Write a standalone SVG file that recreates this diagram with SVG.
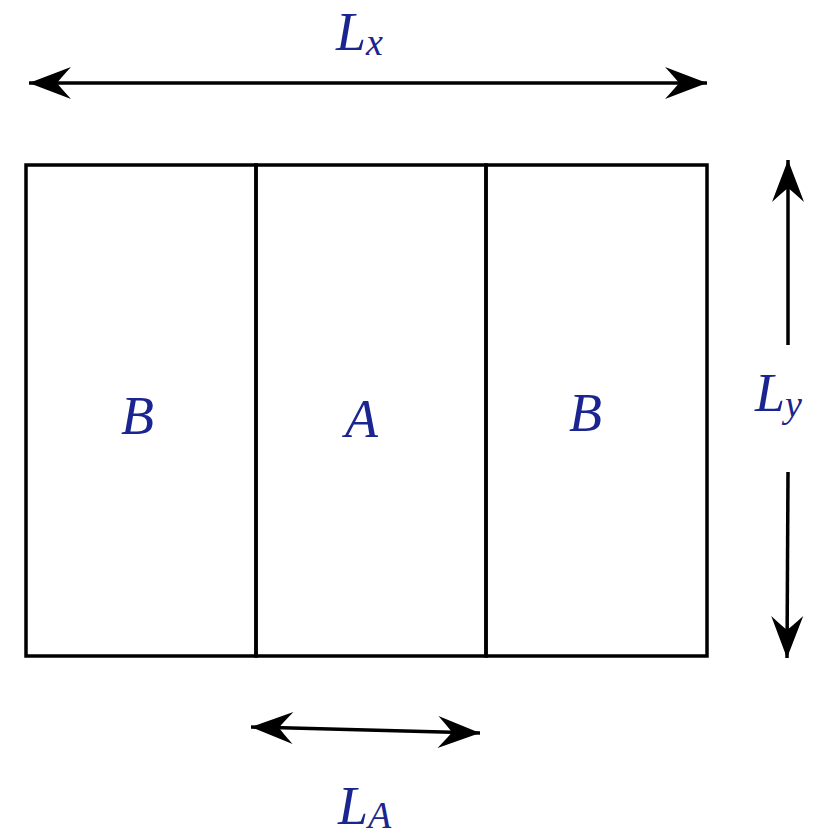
<svg xmlns="http://www.w3.org/2000/svg" width="830" height="836" viewBox="0 0 830 836">
<style>
.box{fill:none;stroke:#000;stroke-width:3.5}
.dim{fill:none;stroke:#000;stroke-width:3.5}
.lbl{font-family:"Liberation Serif",serif;font-style:italic;fill:#1a2590}
</style>
<defs>
<marker id="ah" markerUnits="userSpaceOnUse" viewBox="-44 -18 46 36" refX="0" refY="0" markerWidth="46" markerHeight="36" orient="auto-start-reverse">
<path d="M0,0 L-42,-16 Q-31,-4 -28,0 Q-31,4 -42,16 Z" fill="#000"/>
</marker>
</defs>
<g id="regions">
<g id="region-B-left"><rect class="box" x="26" y="165" width="230" height="491"/></g>
<g id="region-A"><rect class="box" x="256" y="165" width="230" height="491"/></g>
<g id="region-B-right"><rect class="box" x="486" y="165" width="221" height="491"/></g>
</g>
<g id="connectors">
<line class="dim" x1="29" y1="83" x2="707" y2="83" marker-start="url(#ah)" marker-end="url(#ah)"/>
<line class="dim" x1="788" y1="345" x2="788" y2="160" marker-end="url(#ah)"/>
<line class="dim" x1="788" y1="472" x2="787" y2="658" marker-end="url(#ah)"/>
<line class="dim" x1="251" y1="727" x2="480" y2="733" marker-start="url(#ah)" marker-end="url(#ah)"/>
</g>
<g id="labels">
<text class="lbl" x="336" y="50" font-size="54">L<tspan font-size="38" dy="5">x</tspan></text>
<text class="lbl" x="121" y="434" font-size="54">B</text>
<text class="lbl" x="345" y="437" font-size="54">A</text>
<text class="lbl" x="569" y="431" font-size="54">B</text>
<text class="lbl" x="755" y="411" font-size="54">L<tspan font-size="38" dy="6">y</tspan></text>
<text class="lbl" x="338" y="824" font-size="54">L<tspan font-size="38" dy="4">A</tspan></text>
</g>
</svg>
